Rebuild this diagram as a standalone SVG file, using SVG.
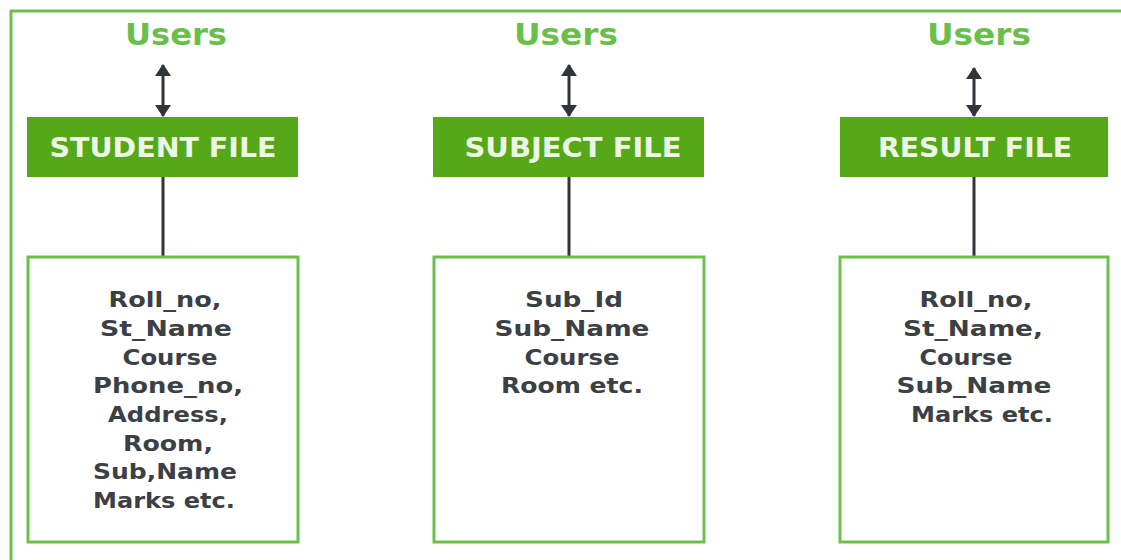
<svg xmlns="http://www.w3.org/2000/svg" width="1121" height="560" viewBox="0 0 1121 560">
<style>
.frame{fill:none;stroke:#6cc04a;stroke-width:3}
.hdr{fill:#55a818}
.box{fill:#ffffff;stroke:#6cc04a;stroke-width:3}
.users{font-family:"DejaVu Sans",sans-serif;font-weight:bold;font-size:31px;fill:#6abf4b;text-anchor:middle}
.htxt{font-family:"DejaVu Sans",sans-serif;font-weight:bold;font-size:27px;fill:#eef7e6;text-anchor:middle}
.btxt{font-family:"DejaVu Sans",sans-serif;font-weight:bold;font-size:22px;fill:#3b4045;text-anchor:middle}
.conn{stroke:#2f353a;stroke-width:3;fill:none}
</style>
<defs>
<marker id="ah" viewBox="0 0 12 18" refX="11" refY="9" markerWidth="12" markerHeight="18" markerUnits="userSpaceOnUse" orient="auto-start-reverse">
<path d="M0,1 L12,9 L0,17 z" fill="#2f353a"/>
</marker>
</defs>
<rect width="1121" height="560" fill="#ffffff"/>
<path class="frame" d="M11,560 L11,11 L1121,11"/>

<g id="connectors">
<line class="conn" x1="163" y1="65" x2="163" y2="116" marker-start="url(#ah)" marker-end="url(#ah)"/>
<line class="conn" x1="569" y1="65" x2="569" y2="116" marker-start="url(#ah)" marker-end="url(#ah)"/>
<line class="conn" x1="974" y1="68" x2="974" y2="116" marker-start="url(#ah)" marker-end="url(#ah)"/>
<line class="conn" x1="163" y1="177" x2="163" y2="257"/>
<line class="conn" x1="569" y1="177" x2="569" y2="257"/>
<line class="conn" x1="974" y1="177" x2="974" y2="257"/>
</g>

<g id="users1"><text class="users" x="176" y="45" textLength="102" lengthAdjust="spacingAndGlyphs">Users</text></g>
<g id="users2"><text class="users" x="566" y="45" textLength="104" lengthAdjust="spacingAndGlyphs">Users</text></g>
<g id="users3"><text class="users" x="979" y="45" textLength="104" lengthAdjust="spacingAndGlyphs">Users</text></g>

<g id="student-file">
<rect class="hdr" x="27" y="117" width="271" height="60"/>
<text class="htxt" x="163" y="157" textLength="227" lengthAdjust="spacingAndGlyphs">STUDENT FILE</text>
</g>
<g id="subject-file">
<rect class="hdr" x="433" y="117" width="271" height="60"/>
<text class="htxt" x="573" y="157" textLength="217" lengthAdjust="spacingAndGlyphs">SUBJECT FILE</text>
</g>
<g id="result-file">
<rect class="hdr" x="840" y="117" width="268" height="60"/>
<text class="htxt" x="975" y="157" textLength="194" lengthAdjust="spacingAndGlyphs">RESULT FILE</text>
</g>

<g id="student-fields">
<rect class="box" x="28" y="257" width="270" height="285"/>
<text class="btxt" x="165" y="307" textLength="113" lengthAdjust="spacingAndGlyphs">Roll_no,</text>
<text class="btxt" x="166" y="336" textLength="132" lengthAdjust="spacingAndGlyphs">St_Name</text>
<text class="btxt" x="170" y="365" textLength="95" lengthAdjust="spacingAndGlyphs">Course</text>
<text class="btxt" x="168" y="393" textLength="150" lengthAdjust="spacingAndGlyphs">Phone_no,</text>
<text class="btxt" x="168" y="422" textLength="120" lengthAdjust="spacingAndGlyphs">Address,</text>
<text class="btxt" x="168" y="451" textLength="90" lengthAdjust="spacingAndGlyphs">Room,</text>
<text class="btxt" x="165" y="479" textLength="144" lengthAdjust="spacingAndGlyphs">Sub,Name</text>
<text class="btxt" x="164" y="508" textLength="142" lengthAdjust="spacingAndGlyphs">Marks etc.</text>
</g>

<g id="subject-fields">
<rect class="box" x="434" y="257" width="270" height="285"/>
<text class="btxt" x="574" y="307" textLength="98" lengthAdjust="spacingAndGlyphs">Sub_Id</text>
<text class="btxt" x="572" y="336" textLength="155" lengthAdjust="spacingAndGlyphs">Sub_Name</text>
<text class="btxt" x="572" y="365" textLength="95" lengthAdjust="spacingAndGlyphs">Course</text>
<text class="btxt" x="572" y="393" textLength="142" lengthAdjust="spacingAndGlyphs">Room etc.</text>
</g>

<g id="result-fields">
<rect class="box" x="840" y="257" width="268" height="285"/>
<text class="btxt" x="976" y="307" textLength="113" lengthAdjust="spacingAndGlyphs">Roll_no,</text>
<text class="btxt" x="973" y="336" textLength="140" lengthAdjust="spacingAndGlyphs">St_Name,</text>
<text class="btxt" x="966" y="365" textLength="93" lengthAdjust="spacingAndGlyphs">Course</text>
<text class="btxt" x="974" y="393" textLength="155" lengthAdjust="spacingAndGlyphs">Sub_Name</text>
<text class="btxt" x="982" y="422" textLength="142" lengthAdjust="spacingAndGlyphs">Marks etc.</text>
</g>
</svg>
